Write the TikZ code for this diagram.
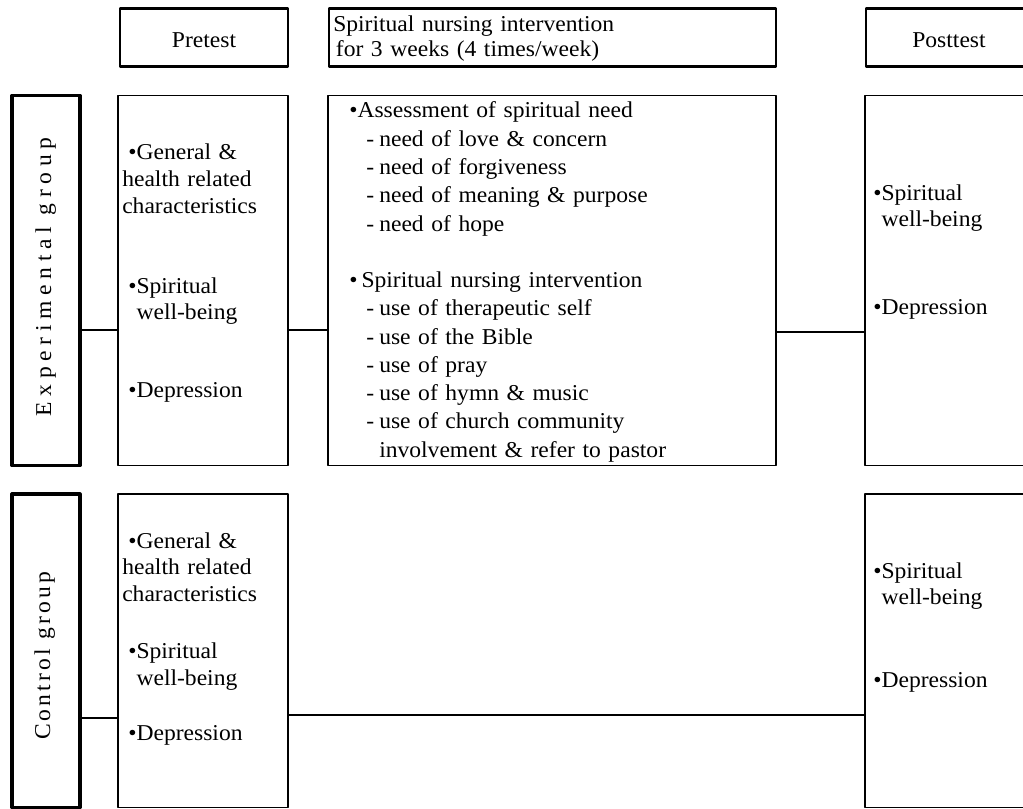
\documentclass[tikz,border=0pt]{standalone}
\usepackage{fontspec}
\setmainfont{Liberation Serif}[FakeStretch=1.04,WordSpace=1.5]
\newfontfamily\expfont{Liberation Serif}[FakeStretch=1.04,LetterSpace=25]
\newfontfamily\ctlfont{Liberation Serif}[FakeStretch=1.04,LetterSpace=14]
\newcommand\dashitem{\hspace*{12.75pt}\makebox[9.75pt][l]{-}}
\newcommand\bul{\hspace*{4.5pt}}
\begin{document}
\begin{tikzpicture}[x=.75pt, y=-.75pt, line join=round, font=\fontsize{17}{20}\selectfont,
	hbox/.style={draw, line width=1.9pt, inner sep=0pt},
	gbox/.style={draw, line width=2.4pt, inner sep=0pt},
	cbox/.style={draw, line width=1.1pt, inner sep=0pt},
	txt/.style={anchor=base west, align=left, text width=#1, inner sep=0pt},
	link/.style={line width=1.1pt}]
		\def\px{.75pt}
		\def\hh{58*\px} \def\rowa{370*\px} \def\rowb{313.5*\px}
		\clip (0,0) rectangle (1023,809);
		% top row
		\node[hbox, minimum width=168*\px, minimum height=\hh] (pre) at (204,37.5) {};
		\node[hbox, minimum width=447*\px, minimum height=\hh] (int) at (552.5,37.5) {};
		\node[hbox, minimum width=168*\px, minimum height=\hh] (post) at (950,37.5) {};
		\node[anchor=base] (pretxt) at (204,48) {Pretest};
		\node[anchor=base] (posttxt) at (949,48) {Posttest};
		\node[txt=400pt, font=\fontsize{17}{18.75}\selectfont] (inttxt) at (333,32)
			{Spiritual nursing intervention\\\hspace*{2pt}for 3 weeks (4 times/week)};
		% experimental group
		\node[gbox, minimum width=68*\px, minimum height=\rowa] (expG) at (46,280.5) {};
		\node[cbox, minimum width=170*\px, minimum height=\rowa] (preE) at (203,280.5) {};
		\node[cbox, minimum width=448*\px, minimum height=\rowa] (intE) at (552,280.5) {};
		\node[cbox, minimum width=170*\px, minimum height=\rowa] (postE) at (950,280.5) {};
		\node[rotate=90, anchor=base, font=\fontsize{17}{20}\expfont] (expT) at (51,277) {Experimental group};
		\node[txt=150pt] (preEtxt) at (122,160) {\bul•General \&\\health related\\characteristics\\[40pt]
			\bul•Spiritual\\\bul\phantom{•}well-being\\[38pt]\bul•Depression};
		\node[txt=330pt, font=\fontsize{17}{21.2}\selectfont] (intEtxt) at (349,118) {•Assessment of spiritual need\\
			\dashitem need of love \& concern\\
			\dashitem need of forgiveness\\
			\dashitem need of meaning \& purpose\\
			\dashitem need of hope\\[21.2pt]
			•\hspace{3pt}Spiritual nursing intervention\\
			\dashitem use of therapeutic self\\
			\dashitem use of the Bible\\
			\dashitem use of pray\\
			\dashitem use of hymn \& music\\
			\dashitem use of church community\\
			\hspace*{22.5pt}involvement \& refer to pastor};
		\node[txt=120pt] (postEtxt) at (873,200) {•Spiritual\\\phantom{•}well-being\\[46pt]•Depression};
		\coordinate (ea) at (0,330); \coordinate (eb) at (0,332);
		\draw[link] (expG.east |- ea) -- (preE.west |- ea);
		\draw[link] (preE.east |- ea) -- (intE.west |- ea);
		\draw[link] (intE.east |- eb) -- (postE.west |- eb);
		% control group
		\node[gbox, minimum width=68*\px, minimum height=\rowb] (ctlG) at (46,650.75) {};
		\node[cbox, minimum width=170*\px, minimum height=\rowb] (preC) at (203,650.75) {};
		\node[cbox, minimum width=170*\px, minimum height=\rowb] (postC) at (950,650.75) {};
		\node[rotate=90, anchor=base, font=\fontsize{17}{20}\ctlfont] (ctlT) at (50,656) {Control group};
		\node[txt=150pt] (preCtxt) at (122,548) {\bul•General \&\\health related\\characteristics\\[23pt]
			\bul•Spiritual\\\bul\phantom{•}well-being\\[21pt]\bul•Depression};
		\node[txt=120pt] (postCtxt) at (873,578) {•Spiritual\\\phantom{•}well-being\\[42pt]•Depression};
		\coordinate (ca) at (0,718); \coordinate (cb) at (0,715);
		\draw[link] (ctlG.east |- ca) -- (preC.west |- ca);
		\draw[link] (preC.east |- cb) -- (postC.west |- cb);
	\end{tikzpicture}
\end{document}
